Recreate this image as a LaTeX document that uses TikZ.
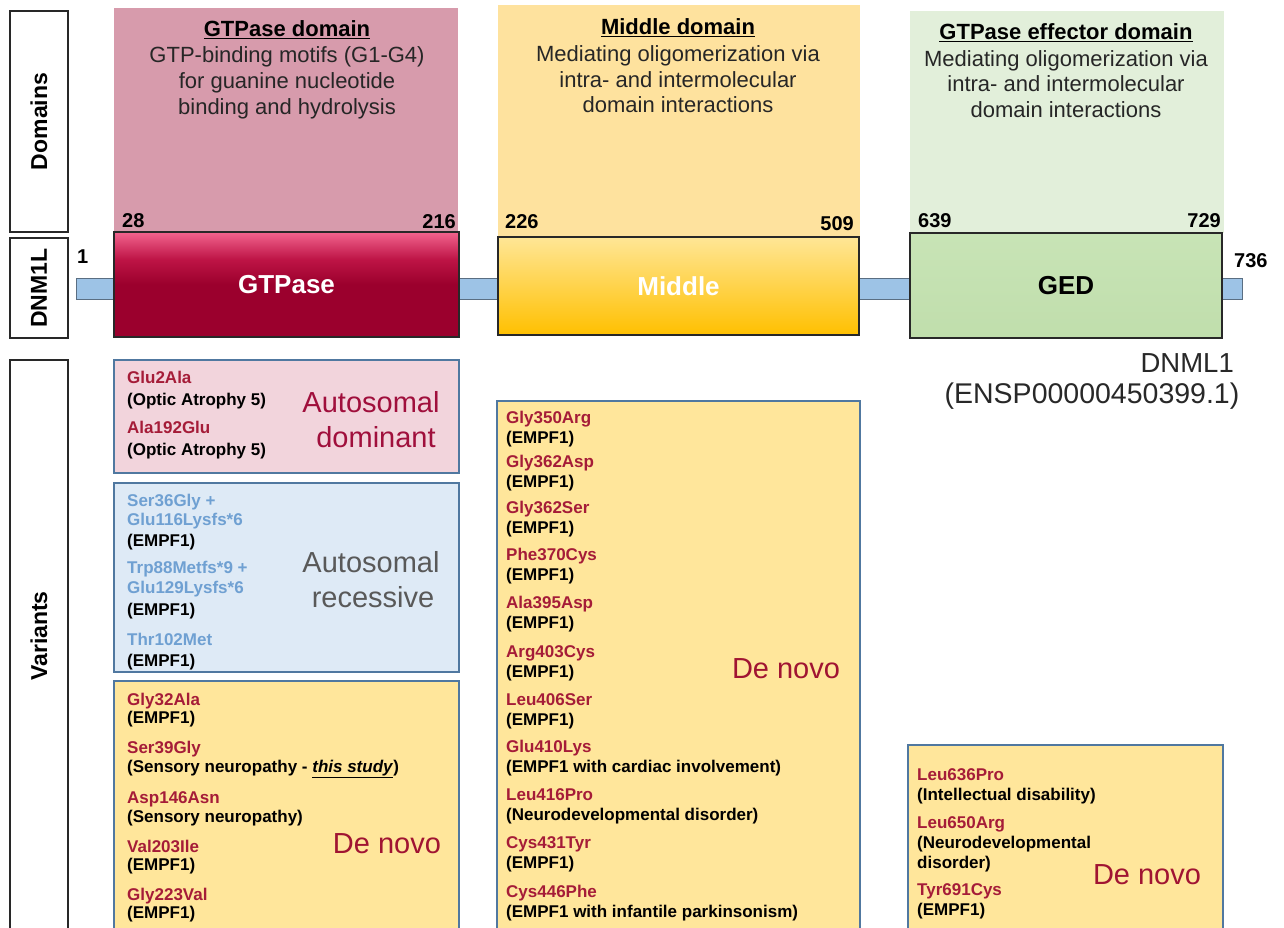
\documentclass[tikz,border=0pt]{standalone}
\usepackage{fontspec}
\setmainfont{Liberation Sans}
\definecolor{vred}{RGB}{165,28,56}
\definecolor{arblue}{RGB}{111,160,210}
\definecolor{dnred}{RGB}{160,20,50}
\definecolor{adred}{RGB}{160,15,60}
\definecolor{argrey}{RGB}{89,89,89}
\definecolor{boxline}{RGB}{80,120,160}
\definecolor{adfill}{RGB}{242,212,220}
\definecolor{arfill}{RGB}{222,234,246}
\definecolor{dnfill}{RGB}{255,230,155}
\definecolor{gtpbg}{RGB}{215,155,172}
\definecolor{midbg}{RGB}{254,226,158}
\definecolor{gedbg}{RGB}{226,239,218}
\definecolor{barfill}{RGB}{157,195,230}
\definecolor{barline}{RGB}{90,110,130}
\definecolor{dgrey}{RGB}{40,40,40}
\definecolor{gtppink}{RGB}{242,100,142}
\definecolor{gtpred}{RGB}{190,20,70}
\definecolor{gtpdark}{RGB}{155,0,45}
\pgfdeclareverticalshading{gtpshade}{100bp}{color(0bp)=(gtpdark); color(25bp)=(gtpdark); color(50bp)=(gtpdark); color(62bp)=(gtpred); color(75bp)=(gtppink); color(100bp)=(gtppink)}
\newcommand\vitem[6]{%
  \node[vname] (#1v) at (#2,#3) {#5};
  \node[vdis] (#1d) at (#2,#4) {#6};}
\begin{document}
\begin{tikzpicture}[x=1pt,y=-1pt,
  lbox/.style={draw=dgrey, line width=1.3pt, rotate=90, inner sep=0, font=\fontsize{23}{26}\selectfont\bfseries},
  bgbox/.style={draw=none, inner sep=0},
  dombox/.style={draw=dgrey, line width=1.3pt, inner sep=0, font=\fontsize{26}{28}\selectfont\bfseries},
  vbox/.style={draw=boxline, line width=1.6pt, inner sep=0},
  vname/.style={anchor=base west, inner sep=0, font=\fontsize{17}{19}\selectfont\bfseries, text=vred},
  vblue/.style={anchor=base west, inner sep=0, font=\fontsize{17}{19}\selectfont\bfseries, text=arblue},
  vdis/.style={anchor=base west, inner sep=0, font=\fontsize{17}{19}\selectfont\bfseries, text=black},
  numlab/.style={inner sep=0, font=\fontsize{20}{22}\selectfont\bfseries, text=black},
  dhead/.style={anchor=base, inner sep=0, font=\fontsize{22}{24}\selectfont\bfseries, text=black},
  dtext/.style={anchor=base, inner sep=0, font=\fontsize{22}{24}\selectfont, text=black!85},
  bigtxt/.style={anchor=base, inner sep=0, font=\fontsize{29}{31}\selectfont}
]
\useasboundingbox (0,0) rectangle (1284,928);
\fill[white] (0,0) rectangle (1284,928);

% left labels
\node[lbox, minimum width=221pt, minimum height=58pt] (domlab) at (39,121.5) {Domains};
\node[lbox, minimum width=100pt, minimum height=58pt] (dnmlab) at (39,288) {DNM1L};
\node[lbox, minimum width=580pt, minimum height=58pt] (varbox) at (39,650) {};
\node[inner sep=0, rotate=90, font=\fontsize{23}{26}\selectfont\bfseries] (varlab) at (39,636) {Variants};

% domain backgrounds
\node[bgbox, fill=gtpbg, minimum width=344pt, minimum height=224pt] (gtpbg) at (286,120) {};
\node[bgbox, fill=midbg, minimum width=362pt, minimum height=232pt] (midbg) at (679,121) {};
\node[bgbox, fill=gedbg, minimum width=314pt, minimum height=222pt] (gedbg) at (1067,122) {};

% domain descriptions
\node[dhead] (h1) at (287,37) {\underline{GTPase domain}};
\node[dtext] (t1a) at (287,63) {GTP-binding motifs (G1-G4)};
\node[dtext] (t1b) at (287,89) {for guanine nucleotide};
\node[dtext] (t1c) at (287,115) {binding and hydrolysis};
\node[dhead] (h2) at (678,35) {\underline{Middle domain}};
\node[dtext] (t2a) at (678,62) {Mediating oligomerization via};
\node[dtext] (t2b) at (678,88) {intra- and intermolecular};
\node[dtext] (t2c) at (678,113) {domain interactions};
\node[dhead] (h3) at (1066,40) {\underline{GTPase effector domain}};
\node[dtext] (t3a) at (1066,67) {Mediating oligomerization via};
\node[dtext] (t3b) at (1066,92) {intra- and intermolecular};
\node[dtext] (t3c) at (1066,118) {domain interactions};

% protein bar
\node[draw=barline, fill=barfill, line width=0.8pt, inner sep=0, minimum width=1166pt, minimum height=21pt] (bar) at (659,289) {};

% domain boxes
\node[dombox, minimum width=345pt, minimum height=105pt, shading=gtpshade, text=white] (gtpase) at (286.5,284.5) {GTPase};
\node[dombox, minimum width=361pt, minimum height=98pt, top color={rgb,255:red,255;green,230;blue,150}, bottom color={rgb,255:red,255;green,192;blue,0}, text=white] (middle) at (678.5,286) {Middle};
\node[dombox, minimum width=312pt, minimum height=105pt, top color={rgb,255:red,200;green,228;blue,182}, middle color={rgb,255:red,168;green,208;blue,140}, bottom color={rgb,255:red,192;green,222;blue,172}, text=black] (ged) at (1066,285.5) {GED};

% position numbers
\node[numlab, anchor=base west] (n1) at (77,263) {1};
\node[numlab, anchor=base west] (n28) at (122,227) {28};
\node[numlab, anchor=base east] (n216) at (456,228) {216};
\node[numlab, anchor=base west] (n226) at (505,228) {226};
\node[numlab, anchor=base east] (n509) at (854,230) {509};
\node[numlab, anchor=base west] (n639) at (918,227) {639};
\node[numlab, anchor=base east] (n729) at (1221,227) {729};
\node[numlab, anchor=base west] (n736) at (1234,267) {736};

% protein name
\node[anchor=base east, inner sep=0, font=\fontsize{27.5}{29}\selectfont, text=dgrey] (pname) at (1234,372) {DNML1};
\node[anchor=base, inner sep=0, font=\fontsize{28.5}{30}\selectfont, text=dgrey] (pid) at (1092,403) {(ENSP00000450399.1)};

% variant boxes
\node[vbox, fill=adfill, minimum width=345pt, minimum height=113pt] (adbox) at (286.5,416.5) {};
\node[vbox, fill=arfill, minimum width=345pt, minimum height=189pt] (arbox) at (286.5,577.5) {};
\node[vbox, fill=dnfill, minimum width=345pt, minimum height=260pt] (dn1box) at (286.5,811) {};
\node[vbox, fill=dnfill, minimum width=363pt, minimum height=540pt] (dn2box) at (678.5,671) {};
\node[vbox, fill=dnfill, minimum width=315pt, minimum height=196pt] (dn3box) at (1065.5,843) {};

% autosomal dominant
\vitem{a1}{127}{383}{405}{Glu2Ala}{(Optic Atrophy 5)}
\vitem{a2}{127}{433}{455}{Ala192Glu}{(Optic Atrophy 5)}
\node[bigtxt, text=adred] (adl1) at (371,412) {Autosomal};
\node[bigtxt, text=adred] (adl2) at (376,447) {dominant};

% autosomal recessive
\node[vblue] (r1a) at (127,506) {Ser36Gly +};
\node[vblue] (r1b) at (127,525) {Glu116Lysfs*6};
\node[vdis] (r1d) at (127,546) {(EMPF1)};
\node[vblue] (r2a) at (127,573) {Trp88Metfs*9 +};
\node[vblue] (r2b) at (127,593) {Glu129Lysfs*6};
\node[vdis] (r2d) at (127,615) {(EMPF1)};
\node[vblue] (r3a) at (127,645) {Thr102Met};
\node[vdis] (r3d) at (127,666) {(EMPF1)};
\node[bigtxt, text=argrey] (arl1) at (371,572) {Autosomal};
\node[bigtxt, text=argrey] (arl2) at (373,607) {recessive};

% de novo GTPase
\vitem{g1}{127}{705}{723}{Gly32Ala}{(EMPF1)}
\vitem{g2}{127}{753}{772}{Ser39Gly}{(Sensory neuropathy - \underline{\textit{this study}})}
\vitem{g3}{127}{803}{822}{Asp146Asn}{(Sensory neuropathy)}
\vitem{g4}{127}{852}{870}{Val203Ile}{(EMPF1)}
\vitem{g5}{127}{900}{918}{Gly223Val}{(EMPF1)}
\node[bigtxt, text=dnred] (dn1) at (387,853) {De novo};

% de novo middle
\vitem{m1}{506}{423}{443}{Gly350Arg}{(EMPF1)}
\vitem{m2}{506}{467}{487}{Gly362Asp}{(EMPF1)}
\vitem{m3}{506}{513}{533}{Gly362Ser}{(EMPF1)}
\vitem{m4}{506}{560}{580}{Phe370Cys}{(EMPF1)}
\vitem{m5}{506}{608}{628}{Ala395Asp}{(EMPF1)}
\vitem{m6}{506}{657}{677}{Arg403Cys}{(EMPF1)}
\vitem{m7}{506}{705}{725}{Leu406Ser}{(EMPF1)}
\vitem{m8}{506}{752}{772}{Glu410Lys}{(EMPF1 with cardiac involvement)}
\vitem{m9}{506}{800}{820}{Leu416Pro}{(Neurodevelopmental disorder)}
\vitem{m10}{506}{848}{868}{Cys431Tyr}{(EMPF1)}
\vitem{m11}{506}{897}{917}{Cys446Phe}{(EMPF1 with infantile parkinsonism)}
\node[bigtxt, text=dnred] (dn2) at (786,678) {De novo};

% de novo GED
\vitem{e1}{917}{780}{800}{Leu636Pro}{(Intellectual disability)}
\node[vname] (e2v) at (917,828) {Leu650Arg};
\node[vdis] (e2d) at (917,848) {(Neurodevelopmental};
\node[vdis] (e2e) at (917,868) {disorder)};
\vitem{e3}{917}{895}{915}{Tyr691Cys}{(EMPF1)}
\node[bigtxt, text=dnred] (dn3) at (1147,884) {De novo};
\end{tikzpicture}
\end{document}
